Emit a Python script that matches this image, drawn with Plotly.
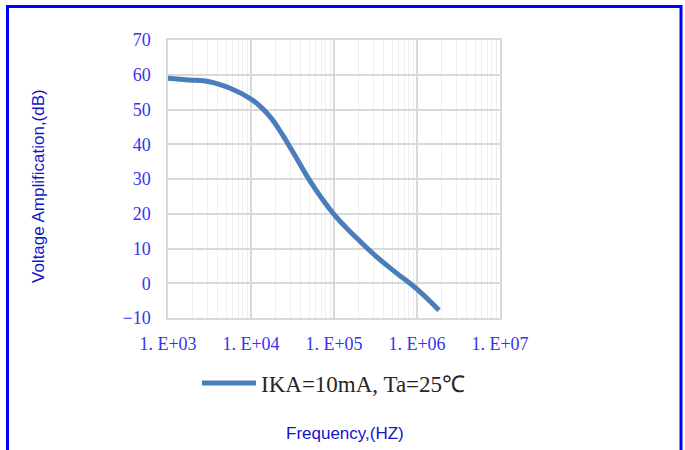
import plotly.graph_objects as go

# Data
freq_hz = [1e3, 1.78e3, 3.16e3, 5.62e3, 1e4, 1.33e4, 1.78e4, 2.37e4, 3.16e4, 5.62e4, 1e5, 1.78e5, 3.16e5, 5.62e5, 1e6, 1.84e6]
gain_db = [59.0, 58.5, 58.0, 56.1, 53.0, 50.6, 47.3, 42.9, 38.0, 28.0, 19.8, 13.5, 7.9, 3.0, -1.7, -7.8]
series_name = "IKA=10mA, Ta=25℃"

x_tick_vals = [1e3, 1e4, 1e5, 1e6, 1e7]
x_tick_text = ["1. E+03", "1. E+04", "1. E+05", "1. E+06", "1. E+07"]
y_tick_vals = [-10, 0, 10, 20, 30, 40, 50, 60, 70]
y_tick_text = ["\u221210", "0", "10", "20", "30", "40", "50", "60", "70"]

W, H = 685, 450
L, R, T, B = 168, 500, 40, 318  # plot area in pixels
pw, ph = R - L, B - T

def px_x(p):
    return (p - L) / pw

def px_y(p):
    return (B - p) / ph

tick_blue = "#3535F0"
title_blue = "#1414C8"
grid_major = "#D9D9D9"
grid_minor = "#EEEEEE"

fig = go.Figure()
fig.add_trace(go.Scatter(
    x=freq_hz, y=gain_db, mode="lines", name=series_name,
    line=dict(color="#4A7EBB", width=5, shape="spline", smoothing=1.3),
))

fig.update_layout(
    width=W, height=H,
    margin=dict(l=L, r=W - R, t=T, b=H - B, pad=0),
    paper_bgcolor="white", plot_bgcolor="white",
    showlegend=True,
    legend=dict(
        orientation="h", x=0.5, xanchor="center", y=px_y(383), yanchor="middle",
        font=dict(family="Liberation Serif, serif", size=23, color="#262626"),
        itemwidth=54, bgcolor="rgba(0,0,0,0)",
    ),
    xaxis=dict(
        type="log", range=[3, 7], tickvals=x_tick_vals, ticktext=x_tick_text,
        showgrid=True, gridcolor=grid_major, gridwidth=1.5,
        minor=dict(dtick="D1", showgrid=True, gridcolor=grid_minor, gridwidth=1, ticks=""),
        showline=True, linecolor=grid_major, linewidth=1.5, mirror=True,
        ticks="", ticklabelstandoff=9,
        tickfont=dict(family="Liberation Serif, serif", size=18, color=tick_blue),
        zeroline=False,
    ),
    yaxis=dict(
        range=[-10, 70], tickvals=y_tick_vals, ticktext=y_tick_text,
        showgrid=True, gridcolor=grid_major, gridwidth=1.5,
        showline=True, linecolor=grid_major, linewidth=1.5, mirror=True,
        ticks="", ticklabelstandoff=12,
        tickfont=dict(family="Liberation Serif, serif", size=18, color=tick_blue),
        zeroline=False,
    ),
    annotations=[
        dict(text="Voltage Amplification,(dB)", xref="paper", yref="paper",
             x=px_x(38), y=px_y(186), xanchor="center", yanchor="middle",
             textangle=-90, showarrow=False,
             font=dict(family="Liberation Sans, Arial, sans-serif", size=17, color=title_blue)),
        dict(text="Frequency,(HZ)", xref="paper", yref="paper",
             x=px_x(345), y=px_y(433), xanchor="center", yanchor="middle",
             showarrow=False,
             font=dict(family="Liberation Sans, Arial, sans-serif", size=17, color=title_blue)),
    ],
    shapes=[
        dict(type="rect", xref="paper", yref="paper",
             x0=px_x(7.5), x1=px_x(681), y0=px_y(470), y1=px_y(6.5),
             line=dict(color="#0000FF", width=3), fillcolor="rgba(0,0,0,0)", layer="above"),
    ],
)

fig.write_html(
    "out.html",
    config={"displayModeBar": False},
    post_script="document.body.style.margin='0';document.body.style.overflow='hidden';",
)
